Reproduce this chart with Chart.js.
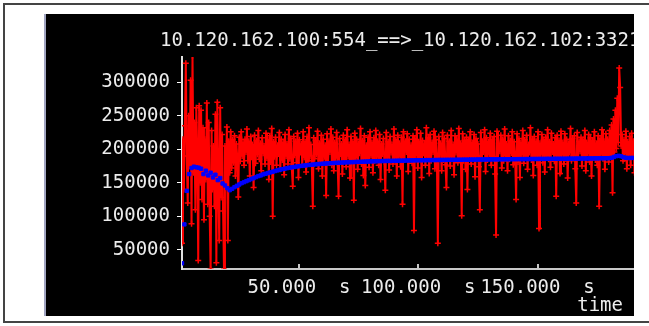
<!DOCTYPE html>
<html>
<head>
<meta charset="utf-8">
<script src="https://cdn.jsdelivr.net/npm/chart.js@4/dist/chart.umd.min.js"></script>
<style>
  html, body { margin: 0; padding: 0; background: #fff; width: 649px; height: 326px; overflow: hidden; }
  .frame { position: absolute; left: 3px; top: 3px; width: 700px; height: 316px;
           border: 2px solid #444; border-right: none; }
  .strip { position: absolute; left: 44px; top: 14px; width: 2px; height: 302px; background: #a0a4c0; }
  .panel { position: absolute; left: 46px; top: 14px; width: 588px; height: 302px; background: #000; overflow: hidden; }
  canvas { display: block; }
</style>
</head>
<body>
<div class="frame"></div>
<div class="strip"></div>
<div class="panel"><canvas id="chart" width="588" height="302"></canvas></div>
<script>
const titleText = '10.120.162.100:554_==>_10.120.162.102:3321';
const xAxisTitle = 'time';

const xTicks = [50000, 100000, 150000];
const xTickLabels = ['50.000  s', '100.000  s', '150.000  s'];
const yTicks = [50000, 100000, 150000, 200000, 250000, 300000];

// red series: one sample every 400 s from t = 1000 s, values in thousands
const redStart = 1000;
const redStep = 400;
const redValues = [
  60, 215, 140, 235, 328, 190, 120, 250, 175, 303, 89, 339, 165, 240, 110, 262, 195, 34, 265, 150,
  258, 125, 232, 95, 215, 155, 269, 118, 240, 100, 21, 228, 140, 205, 115, 252, 31, 270, 150, 64,
  262, 128, 222, 108, 21, 205, 150, 233, 64, 212, 165, 226, 172, 214, 180, 220, 160, 208, 185, 129,
  218, 182, 226, 190, 210, 176, 215, 196, 230, 183, 212, 160, 219, 188, 207, 143, 221, 179, 213, 192,
  228, 185, 209, 168, 217, 194, 205, 178, 224, 187, 214, 155, 220, 181, 231, 100, 211, 189, 218, 176,
  206, 193, 225, 170, 215, 184, 210, 162, 222, 190, 208, 178, 229, 186, 216, 172, 145, 219, 191, 212,
  180, 224, 158, 214, 195, 208, 177, 226, 188, 211, 166, 219, 183, 232, 190, 207, 175, 115, 217, 186,
  213, 192, 227, 171, 209, 184, 221, 160, 215, 189, 206, 131, 223, 180, 212, 196, 230, 176, 218, 168,
  210, 187, 225, 179, 130, 216, 193, 208, 163, 221, 185, 214, 174, 229, 190, 207, 157, 219, 182, 211,
  124, 224, 188, 215, 170, 209, 194, 231, 178, 213, 161, 220, 146, 206, 186, 218, 173, 226, 191, 210,
  165, 217, 183, 228, 189, 212, 176, 222, 155, 208, 193, 216, 181, 139, 225, 187, 211, 169, 219, 195,
  207, 178, 230, 186, 214, 160, 221, 190, 209, 174, 218, 118, 226, 184, 212, 196, 223, 167, 215, 188,
  206, 179, 220, 79, 216, 191, 229, 172, 211, 185, 224, 158, 213, 194, 208, 176, 232, 189, 217, 164,
  222, 183, 210, 196, 227, 171, 214, 187, 60, 219, 192, 209, 168, 225, 184, 216, 177, 143, 221, 190,
  212, 175, 228, 186, 207, 162, 220, 195, 215, 180, 231, 188, 209, 101, 223, 183, 213, 170, 218, 140,
  214, 192, 226, 178, 210, 187, 222, 159, 216, 190, 208, 174, 110, 225, 185, 212, 196, 229, 167, 217,
  184, 211, 193, 224, 176, 214, 189, 219, 163, 72, 227, 186, 209, 197, 221, 172, 215, 183, 230, 191,
  208, 168, 220, 185, 213, 194, 226, 177, 211, 188, 125, 223, 181, 216, 158, 210, 192, 228, 179, 214,
  189, 221, 170, 207, 195, 232, 184, 215, 161, 219, 187, 212, 176, 226, 82, 209, 193, 222, 180, 214,
  166, 218, 190, 229, 185, 211, 173, 224, 196, 208, 182, 217, 130, 221, 188, 213, 164, 227, 192, 210,
  178, 223, 186, 215, 157, 209, 195, 231, 183, 216, 190, 220, 171, 120, 225, 187, 212, 197, 218, 175,
  214, 189, 228, 168, 210, 194, 222, 181, 217, 160, 213, 191, 226, 184, 209, 176, 220, 115, 216, 193,
  229, 186, 212, 170, 223, 190, 215, 181, 228, 192, 236, 135, 245, 196, 258, 201, 276, 210, 321, 292,
  205, 222, 183, 214, 194, 227, 171, 211, 188, 219, 176, 224, 190, 212, 165, 218, 186, 209, 197, 221
];

// blue series: one sample every 1000 s from t = 1000 s, values in thousands
const blueStart = 1000;
const blueStep = 1000;
const blueValues = [
  30, 88, 138, 163, 172, 174, 173, 172.5, 171, 163, 168, 161, 165, 158, 162, 154, 157, 149, 146, 142,
  139, 141, 143.5, 145.5, 147.5, 149.5, 151, 152.5, 154, 155.5, 157, 158.5, 160, 161, 162.5, 163.5, 164.5, 165.5, 166.5, 167.5,
  168.5, 169.5, 170.3, 171, 171.8, 172.5, 173, 173.6, 174.2, 174.7, 175.2, 175.6, 176, 176.5, 176.8, 177.2, 177.5, 177.9, 178.1, 178.4,
  178.7, 178.9, 179.2, 179.4, 179.6, 179.8, 180, 180.2, 180.3, 180.5, 180.6, 180.8, 180.9, 181.1, 181.2, 181.3, 181.5, 181.6, 181.7, 181.9,
  182, 182.1, 182.2, 182.3, 182.4, 182.5, 182.6, 182.6, 182.7, 182.8, 182.9, 183, 183, 183.1, 183.2, 183.3, 183.3, 183.4, 183.5, 183.5,
  183.6, 183.6, 183.7, 183.8, 183.8, 183.9, 183.9, 184, 184, 184.1, 184.1, 184.2, 184.2, 184.3, 184.3, 184.3, 184.4, 184.4, 184.5, 184.5,
  184.5, 184.6, 184.6, 184.6, 184.7, 184.7, 184.7, 184.8, 184.8, 184.8, 184.9, 184.9, 184.9, 185, 185, 185, 185.1, 185.1, 185.1, 185.2,
  185.2, 185.3, 185.3, 185.3, 185.4, 185.4, 185.4, 185.5, 185.5, 185.5, 185.6, 185.6, 185.6, 185.7, 185.7, 185.7, 185.8, 185.8, 185.8, 185.9,
  185.9, 185.9, 186, 186, 186, 186.1, 186.1, 186.1, 186.2, 186.2, 186.2, 186.3, 186.3, 186.4, 186.4, 186.5, 186.5, 186.6, 186.6, 186.7,
  187.2, 188.5, 189.8, 190.2, 189.5, 188, 187.2, 187, 187, 187.1
];

const textColor = '#ececec';
const axisColor = '#c8c8c8';
const fontSize = 19;
const fontFamily = '"DejaVu Sans Mono", monospace';

const overlay = {
  id: 'overlay',
  afterDraw(chart) {
    const { ctx, chartArea, scales } = chart;
    ctx.save();
    // small ticks pointing up into the plot
    ctx.strokeStyle = axisColor;
    ctx.lineWidth = 2;
    xTicks.forEach(v => {
      const px = Math.round(scales.x.getPixelForValue(v));
      ctx.beginPath();
      ctx.moveTo(px, chartArea.bottom);
      ctx.lineTo(px, chartArea.bottom - 5);
      ctx.stroke();
    });
    ctx.font = fontSize + 'px ' + fontFamily;
    ctx.fillStyle = textColor;
    ctx.textBaseline = 'middle';
    ctx.textAlign = 'left';
    ctx.fillText(titleText, chartArea.left - 22, chartArea.top - 16);
    ctx.textAlign = 'right';
    ctx.fillText(xAxisTitle, chartArea.right - 11, chartArea.bottom + 37);
    ctx.restore();
  }
};

const ctx = document.getElementById('chart').getContext('2d');
new Chart(ctx, {
  type: 'line',
  data: {
    datasets: [
      {
        label: 'average',
        data: blueValues.map((v, i) => ({ x: blueStart + i * blueStep, y: v * 1000 })),
        showLine: false,
        pointStyle: 'rect',
        pointRadius: 2.4,
        pointBackgroundColor: '#0000ff',
        pointBorderColor: '#0000ff',
        pointBorderWidth: 1,
        order: 0,
      },
      {
        label: 'rate',
        data: redValues.map((v, i) => ({ x: redStart + i * redStep, y: v * 1000 })),
        borderColor: '#ff0000',
        borderWidth: 2,
        tension: 0,
        pointStyle: 'cross',
        pointRadius: 3,
        pointBorderColor: '#ff0000',
        pointBorderWidth: 1.5,
        order: 1,
      },
    ],
  },
  options: {
    responsive: false,
    animation: false,
    events: [],
    layout: { autoPadding: false, padding: { top: 43, left: 0, right: 0, bottom: 0 } },
    plugins: {
      legend: { display: false },
      tooltip: { enabled: false },
    },
    scales: {
      x: {
        type: 'linear',
        min: 1000,
        max: 190400,
        afterBuildTicks: (axis) => { axis.ticks = xTicks.map(v => ({ value: v })); },
        afterFit: (axis) => { axis.height = 47; },
        grid: { display: false, drawTicks: false },
        border: { display: true, color: axisColor, width: 2 },
        ticks: {
          color: textColor,
          font: { family: fontFamily, size: fontSize },
          padding: 8,
          maxRotation: 0,
          autoSkip: false,
          callback: (v) => xTickLabels[xTicks.indexOf(v)],
        },
      },
      y: {
        min: 21500,
        max: 337500,
        afterBuildTicks: (axis) => { axis.ticks = yTicks.map(v => ({ value: v })); },
        afterFit: (axis) => { axis.width = 136; },
        grid: { drawOnChartArea: false, color: '#ffffff', tickLength: 5, lineWidth: 1 },
        border: { display: true, color: '#e0e0e0', width: 2 },
        ticks: {
          color: textColor,
          font: { family: fontFamily, size: fontSize },
          padding: 7,
          callback: (v) => String(v),
        },
      },
    },
  },
  plugins: [overlay],
});
</script>
</body>
</html>
